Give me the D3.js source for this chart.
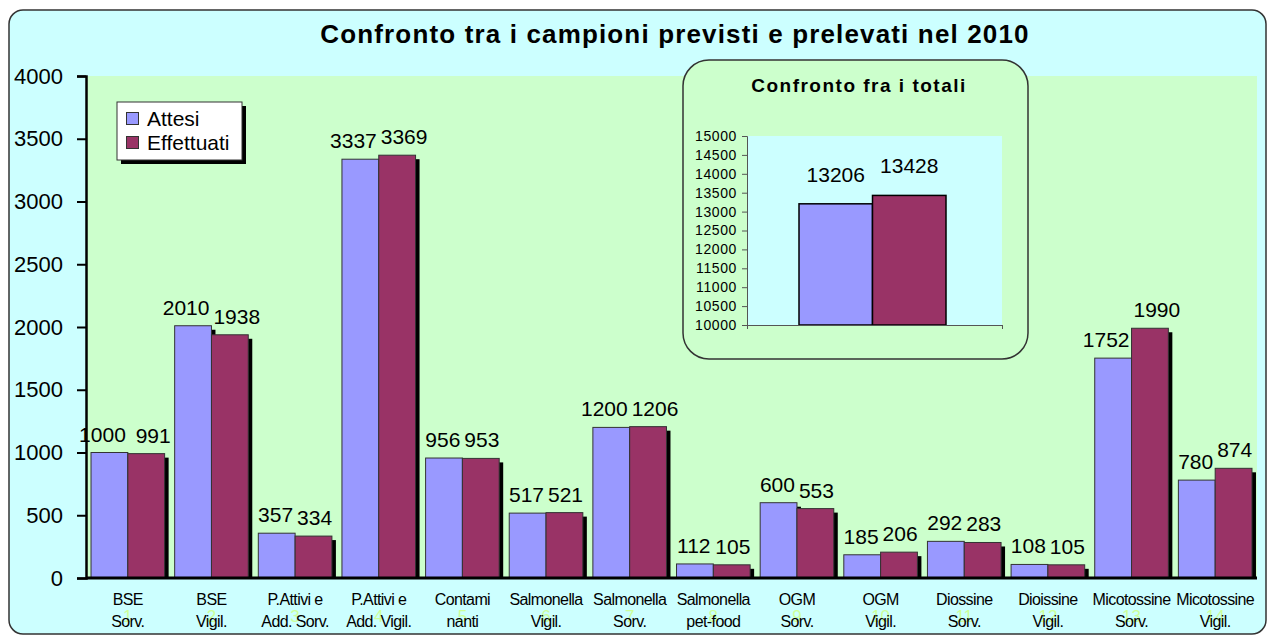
<!DOCTYPE html>
<html>
<head>
<meta charset="utf-8">
<script src="https://cdn.jsdelivr.net/npm/d3@7"></script>
<style>
  body { margin: 0; background: #fff; }
  svg { display: block; font-family: "Liberation Sans", Arial, sans-serif; }
</style>
</head>
<body>
<svg id="chart" width="1268" height="637"></svg>
<script>
const categories = [
    ["BSE", "Sorv."], ["BSE", "Vigil."], ["P.Attivi e", "Add. Sorv."], ["P.Attivi e", "Add. Vigil."],
    ["Contami", "nanti"], ["Salmonella", "Vigil."], ["Salmonella", "Sorv."], ["Salmonella", "pet-food"],
    ["OGM", "Sorv."], ["OGM", "Vigil."], ["Diossine", "Sorv."], ["Dioissine", "Vigil."],
    ["Micotossine", "Sorv."], ["Micotossine", "Vigil."]
]
const series = ["Attesi", "Effettuati"]
const attesi = [1000, 2010, 357, 3337, 956, 517, 1200, 112, 600, 185, 292, 108, 1752, 780]
const effettuati = [991, 1938, 334, 3369, 953, 521, 1206, 105, 553, 206, 283, 105, 1990, 874]
const yTicks = [0, 500, 1000, 1500, 2000, 2500, 3000, 3500, 4000]
const insetTicks = [10000, 10500, 11000, 11500, 12000, 12500, 13000, 13500, 14000, 14500, 15000]
const totals = [d3.sum(attesi), d3.sum(effettuati)]

const colors = {Attesi: "#9999ff", Effettuati: "#993366"}
const svg = d3.select("#chart")

// outer chart area
svg.append("rect")
    .attr("x", 9).attr("y", 10).attr("width", 1257).attr("height", 624).attr("rx", 14)
    .attr("fill", "#ccffff").attr("stroke", "#333").attr("stroke-width", 1.5)

const margin = ({top: 76, right: 1257, bottom: 578, left: 86})

const x = d3.scaleBand()
    .domain(d3.range(categories.length))
    .range([margin.left, margin.right])
    .paddingInner(0.12)
    .paddingOuter(0.06)

const xs = d3.scaleBand()
    .domain(series)
    .range([0, x.bandwidth()])

const y = d3.scaleLinear()
    .domain([0, 4000])
    .range([margin.bottom, margin.top])

svg.append("rect")
    .attr("x", margin.left).attr("y", margin.top)
    .attr("width", margin.right - margin.left).attr("height", margin.bottom - margin.top)
    .attr("fill", "#ccffcc")

svg.append("text")
    .attr("x", 675).attr("y", 43)
    .attr("text-anchor", "middle")
    .attr("font-weight", "bold").attr("font-size", 26).attr("letter-spacing", 1.15)
    .text("Confronto tra i campioni previsti e prelevati nel 2010")

const rows = categories.map((c, i) => ({i, values: [
    {key: "Attesi", value: attesi[i]}, {key: "Effettuati", value: effettuati[i]}]}))

const groups = svg.append("g")
    .selectAll("g")
    .data(rows)
    .join("g")
    .attr("transform", d => `translate(${x(d.i)},0)`)

groups.each(function(d) {
    const g = d3.select(this)
    d.values.forEach(v => {
        g.append("rect")
            .attr("x", xs(v.key) + 4).attr("y", y(v.value) + 4)
            .attr("width", xs.bandwidth()).attr("height", y(0) - y(v.value) - 4)
            .attr("fill", "#000")
        g.append("rect")
            .attr("x", xs(v.key)).attr("y", y(v.value))
            .attr("width", xs.bandwidth()).attr("height", y(0) - y(v.value))
            .attr("fill", colors[v.key]).attr("stroke", "#333").attr("stroke-width", 1)
    })
})

// push wide labels apart so neighbours do not collide
const labelSize = 21
const spread = d => {
    const w = d3.max(d.values, v => String(v.value).length) * 0.556 * labelSize
    return Math.max(0, (w - xs.bandwidth()) / 2 + 2)
}

groups.selectAll("text.val")
    .data(d => d.values.map(v => ({...v, shift: spread(d)})))
    .join("text")
    .attr("class", "val")
    .attr("x", v => xs(v.key) + xs.bandwidth() / 2 + (v.key === "Attesi" ? -v.shift : v.shift))
    .attr("y", v => y(v.value) - 11)
    .attr("text-anchor", "middle")
    .attr("font-size", labelSize)
    .text(v => v.value)

// faint category numbers
svg.append("g")
    .attr("fill", "#ccff99").attr("font-size", 17).attr("text-anchor", "middle")
    .selectAll("text")
    .data(categories)
    .join("text")
    .attr("x", (d, i) => x(i) + x.bandwidth() / 2)
    .attr("y", 622)
    .text((d, i) => i + 1)

svg.append("g")
    .attr("font-size", 16).attr("text-anchor", "middle").attr("letter-spacing", -0.6)
    .selectAll("text")
    .data(categories)
    .join("text")
    .attr("x", (d, i) => x(i) + x.bandwidth() / 2)
    .attr("y", 605)
    .call(t => t.append("tspan").text(d => d[0]))
    .call(t => t.append("tspan")
        .attr("x", (d, i) => x(i) + x.bandwidth() / 2)
        .attr("dy", 22)
        .text(d => d[1]))

const yAxis = g => g
    .attr("transform", `translate(${margin.left},0)`)
    .call(d3.axisLeft(y).tickValues(yTicks).tickFormat(d3.format("d")).tickSize(9).tickPadding(14))
    .call(g => g.selectAll("line").attr("stroke", "#000").attr("stroke-width", 2))
    .call(g => g.select(".domain").attr("stroke", "#000").attr("stroke-width", 2.5))
    .call(g => g.selectAll("text").attr("font-size", 22).attr("fill", "#000")
        .attr("font-family", "Liberation Sans, Arial, sans-serif"))

svg.append("g").call(yAxis)

svg.append("line")
    .attr("x1", margin.left).attr("x2", margin.right)
    .attr("y1", y(0)).attr("y2", y(0))
    .attr("stroke", "#000").attr("stroke-width", 3)

// legend
const legend = svg.append("g").attr("transform", "translate(117,102)")
legend.append("rect").attr("x", 4).attr("y", 4).attr("width", 125).attr("height", 58).attr("fill", "#000")
legend.append("rect").attr("width", 125).attr("height", 58)
    .attr("fill", "#fff").attr("stroke", "#333").attr("stroke-width", 1)
series.forEach((s, i) => {
    legend.append("rect")
        .attr("x", 9.5).attr("y", 10.5 + i * 24).attr("width", 12).attr("height", 12)
        .attr("fill", colors[s]).attr("stroke", "#333")
    legend.append("text")
        .attr("x", 30).attr("y", 24 + i * 24)
        .attr("font-size", 21)
        .text(s)
})

// inset: comparison of totals
const inset = svg.append("g")
inset.append("rect")
    .attr("x", 683).attr("y", 60).attr("width", 345).attr("height", 299).attr("rx", 26)
    .attr("fill", "#ccffcc").attr("stroke", "#333").attr("stroke-width", 1.5)
inset.append("text")
    .attr("x", 859).attr("y", 92)
    .attr("text-anchor", "middle").attr("font-weight", "bold")
    .attr("font-size", 19).attr("letter-spacing", 1.5)
    .text("Confronto fra i totali")

const ix = d3.scaleBand().domain(series).range([799, 946])
const iy = d3.scaleLinear().domain([10000, 15000]).range([325, 136])

inset.append("rect")
    .attr("x", 747).attr("y", iy(15000))
    .attr("width", 1002 - 747).attr("height", iy(10000) - iy(15000))
    .attr("fill", "#ccffff")

inset.append("g")
    .selectAll("rect")
    .data(series)
    .join("rect")
    .attr("x", d => ix(d)).attr("y", (d, i) => iy(totals[i]))
    .attr("width", ix.bandwidth()).attr("height", (d, i) => iy(10000) - iy(totals[i]))
    .attr("fill", d => colors[d]).attr("stroke", "#000").attr("stroke-width", 1.5)

inset.append("g")
    .attr("font-size", 21).attr("text-anchor", "middle")
    .selectAll("text")
    .data(series)
    .join("text")
    .attr("x", d => ix(d) + ix.bandwidth() / 2)
    .attr("y", (d, i) => iy(totals[i]) - 22)
    .text((d, i) => totals[i])

inset.append("g")
    .attr("transform", "translate(747,0)")
    .call(d3.axisLeft(iy).tickValues(insetTicks).tickFormat(d3.format("d")).tickSize(5).tickPadding(5))
    .call(g => g.selectAll("line").attr("stroke", "#555"))
    .call(g => g.select(".domain").attr("stroke", "#555"))
    .call(g => g.selectAll("text").attr("font-size", 14).attr("fill", "#000")
        .attr("letter-spacing", 0.6).attr("font-family", "Liberation Sans, Arial, sans-serif"))

inset.append("g")
    .attr("transform", `translate(0,${iy(10000)})`)
    .call(d3.axisBottom(d3.scaleLinear().range([747, 1002])).tickValues([0, 1]).tickFormat("").tickSize(4))
    .call(g => g.selectAll("line").attr("stroke", "#555"))
    .call(g => g.select(".domain").attr("stroke", "#555"))
</script>
</body>
</html>
